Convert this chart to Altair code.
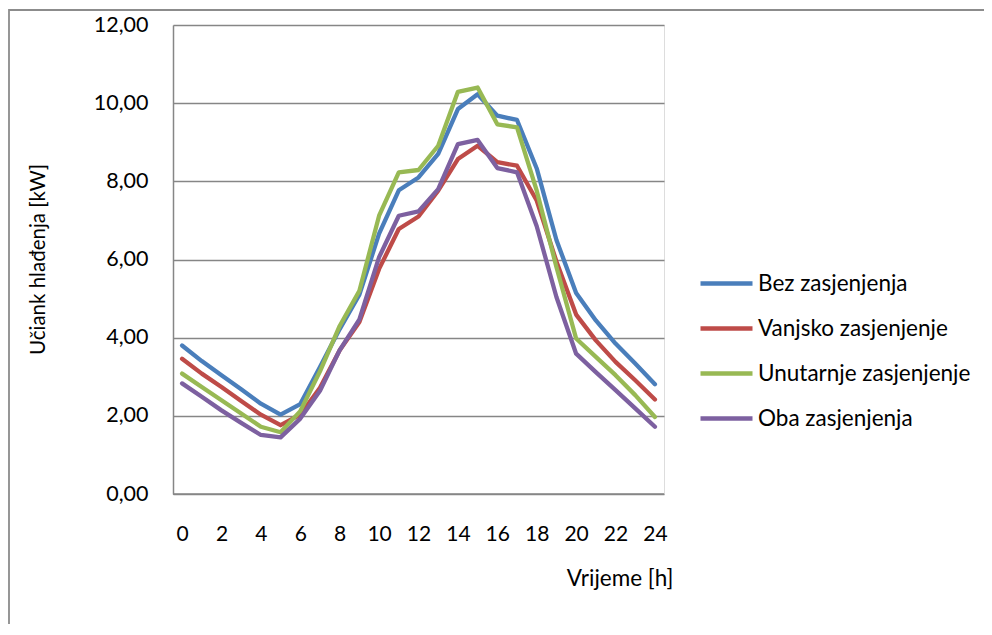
import altair as alt
import pandas as pd

hours = list(range(25))
series_names = ["Bez zasjenjenja", "Vanjsko zasjenjenje", "Unutarnje zasjenjenje", "Oba zasjenjenja"]
colors = ["#4A7EBB", "#BE4B48", "#98B954", "#7D60A0"]

bez = [3.80, 3.40, 3.04, 2.68, 2.31, 2.03, 2.30, 3.25, 4.22, 5.10, 6.66, 7.77, 8.10,
       8.70, 9.85, 10.23, 9.68, 9.57, 8.33, 6.50, 5.14, 4.44, 3.85, 3.34, 2.81]
vanjsko = [3.46, 3.08, 2.74, 2.38, 2.03, 1.76, 2.03, 2.72, 3.68, 4.40, 5.76, 6.78, 7.10,
           7.76, 8.57, 8.91, 8.49, 8.40, 7.51, 5.95, 4.59, 3.93, 3.38, 2.91, 2.42]
unutarnje = [3.08, 2.74, 2.40, 2.06, 1.72, 1.58, 2.12, 3.14, 4.30, 5.20, 7.12, 8.23, 8.29,
             8.91, 10.29, 10.40, 9.46, 9.38, 7.76, 5.81, 3.98, 3.51, 3.04, 2.53, 1.97]
oba = [2.83, 2.49, 2.14, 1.82, 1.51, 1.45, 1.93, 2.64, 3.68, 4.47, 6.06, 7.12, 7.23,
       7.80, 8.95, 9.06, 8.34, 8.23, 6.85, 5.04, 3.59, 3.12, 2.66, 2.19, 1.72]

x_ticks = list(range(0, 25, 2))
y_ticks = [0, 2, 4, 6, 8, 10, 12]

rows = []
for name, vals in zip(series_names, [bez, vanjsko, unutarnje, oba]):
    for h, v in zip(hours, vals):
        rows.append({"sat": h, "vrijednost": v, "serija": name})
df = pd.DataFrame(rows)

FONT = "Lato"
GRID = "#868686"

lines = alt.Chart(df).mark_line(strokeWidth=4.3, strokeJoin="round", strokeCap="round").encode(
    x=alt.X("sat:Q",
            scale=alt.Scale(domain=[-0.46, 24.46], nice=False, zero=False),
            axis=alt.Axis(values=x_ticks, grid=False, ticks=False, domain=False,
                          labelPadding=29, labelFontSize=21, labelFont=FONT, labelColor="#000",
                          title="Vrijeme [h]", titleFont=FONT, titleFontSize=22.5,
                          titleFontWeight="normal", titleColor="#000",
                          titleAlign="right", titleAnchor="end", titleX=500, titleY=84,
                          titleBaseline="middle")),
    y=alt.Y("vrijednost:Q",
            scale=alt.Scale(domain=[0, 12], nice=False),
            axis=alt.Axis(values=y_ticks, grid=True, gridColor=GRID, gridWidth=1.5,
                          ticks=False, domain=True, domainColor=GRID, domainWidth=1.5,
                          labelPadding=25, labelFontSize=21.5, labelFont=FONT, labelColor="#000",
                          labelExpr="replace(format(datum.value, '.2f'), '.', ',')",
                          title="Učiank hlađenja [kW]", titleFont=FONT, titleFontSize=20.5,
                          titleFontWeight="normal", titleColor="#000",
                          titleAngle=-90, titleX=-135, titleY=234, titleBaseline="middle",
                          titleAlign="center")),
    color=alt.Color("serija:N",
                    scale=alt.Scale(domain=series_names, range=colors),
                    legend=alt.Legend(title=None, orient="none", legendX=525, legendY=230,
                                      symbolType="stroke", symbolSize=2704, symbolStrokeWidth=4.3,
                                      labelFont=FONT, labelFontSize=22.5, labelColor="#000",
                                      labelLimit=0, labelOffset=3, rowPadding=5, padding=0)),
    order=alt.Order("sat:Q"),
)

bottom_axis = alt.Chart(pd.DataFrame({"v": [0]})).mark_rule(color=GRID, strokeWidth=1.5).encode(
    y=alt.Y("v:Q"), x=alt.value(0), x2=alt.value(491)
)

frame = alt.Chart(pd.DataFrame({"a": [0]})).mark_rect(
    fillOpacity=0, stroke="#8C8C8C", strokeWidth=1.8
).encode(x=alt.value(-164), x2=alt.value(840), y=alt.value(-15), y2=alt.value(640))

chart = alt.layer(frame, lines, bottom_axis).properties(
    width=491, height=469,
    autosize=alt.AutoSizeParams(type="none"),
    padding={"left": 165, "top": 17, "right": 320, "bottom": 130},
).configure_view(stroke=None).configure(background="white")

chart.save("out.html", embed_options={"renderer": "svg", "actions": False})
